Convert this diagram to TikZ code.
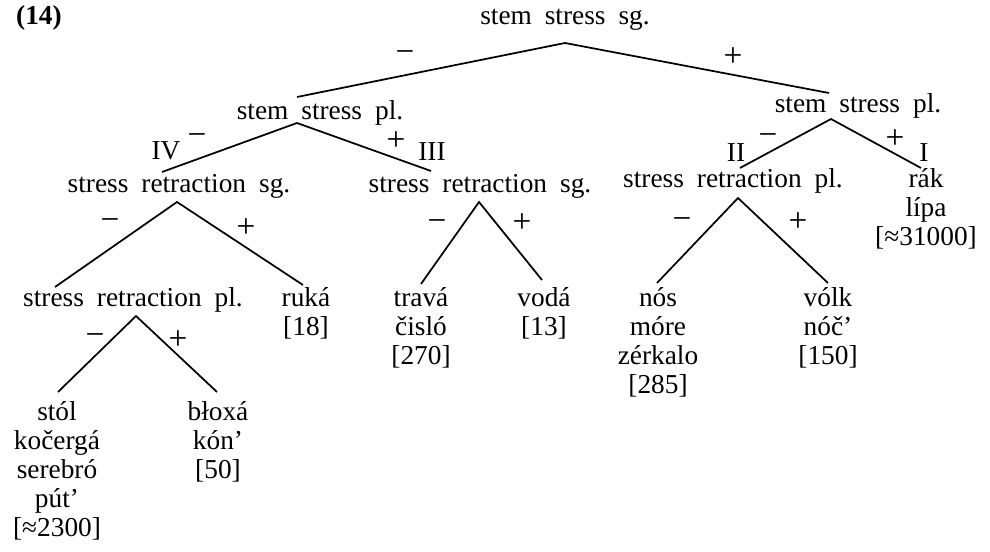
\documentclass[tikz,border=0pt]{standalone}
\usepackage{fontspec}
\setmainfont{Liberation Serif}[WordSpace=1.9]
\newcommand{\leaflist}[1]{\begin{tabular}[t]{@{}c@{}}#1\end{tabular}}
\tikzset{every picture/.style={line width=0.75pt}}

\begin{document}
\begin{tikzpicture}[x=0.75pt,y=0.75pt,yscale=-1,xscale=1,
  txt/.style={font=\fontsize{20.5}{21.75}\selectfont,inner sep=0pt,anchor=base},
  cls/.style={font=\fontsize{20.5}{21.75}\selectfont,inner sep=0pt},
  sgn/.style={font=\fontsize{25}{26}\selectfont,inner sep=0pt},
  branch/.style={line width=1.3pt}]
\useasboundingbox (0,0) rectangle (990,552);

% Text Node
\node [cls,font=\fontsize{20.5}{21.75}\selectfont\bfseries] (exno) at (39,18) {(14)};

% Text Node
\node [txt] (sgStem) at (565,25) {stem stress sg.};
\node [txt] (plStemL) at (320,120) {stem stress pl.};
\node [txt] (plStemR) at (858,113) {stem stress pl.};
\node [txt] (retrSgL) at (179,193) {stress retraction sg.};
\node [txt] (retrSgM) at (480,193) {stress retraction sg.};
\node [txt] (retrPlR) at (733,188) {stress retraction pl.};
\node [txt] (retrPlL) at (133,307) {stress retraction pl.};

% Leaves
\node [txt] (ruka) at (306,307) {\leaflist{ruká\\{[}18{]}}};
\node [txt] (trava) at (421,307) {\leaflist{travá\\čisló\\{[}270{]}}};
\node [txt] (voda) at (544,307) {\leaflist{vodá\\{[}13{]}}};
\node [txt] (nos) at (658,307) {\leaflist{nós\\móre\\zérkalo\\{[}285{]}}};
\node [txt] (volk) at (828,307) {\leaflist{vólk\\nóč’\\{[}150{]}}};
\node [txt] (rak) at (926,188) {\leaflist{rák\\lípa\\{[}≈31000{]}}};
\node [txt] (stol) at (57,421) {\leaflist{stól\\kočergá\\serebró\\pút’\\{[}≈2300{]}}};
\node [txt] (bloxa) at (218,421) {\leaflist{błoxá\\kón’\\{[}50{]}}};

% Branch points
\coordinate (sgStem-a) at (565,43);
\coordinate (plStemL-a) at (297,123);
\coordinate (plStemR-a) at (831,119);
\coordinate (retrSgL-a) at (177,202);
\coordinate (retrSgM-a) at (479,202);
\coordinate (retrPlR-a) at (738,198);
\coordinate (retrPlL-a) at (136,316);
% Branch ends
\coordinate (plStemL-e) at (297,97);
\coordinate (plStemR-e) at (829,93);
\coordinate (retrSgL-e) at (162,172);
\coordinate (retrSgM-e) at (431,171);
\coordinate (retrPlR-e) at (740,168);
\coordinate (rak-e) at (921,168);
\coordinate (retrPlL-e) at (55,287);
\coordinate (ruka-e) at (303,285);
\coordinate (trava-e) at (421,284);
\coordinate (voda-e) at (542,280);
\coordinate (nos-e) at (657,283);
\coordinate (volk-e) at (828,283);
\coordinate (stol-e) at (58,392);
\coordinate (bloxa-e) at (217,392);

%Straight Lines
\draw [branch] (plStemL-e) -- (sgStem-a) -- (plStemR-e);
\draw [branch] (retrSgL-e) -- (plStemL-a) -- (retrSgM-e);
\draw [branch] (retrPlR-e) -- (plStemR-a) -- (rak-e);
\draw [branch] (retrPlL-e) -- (retrSgL-a) -- (ruka-e);
\draw [branch] (trava-e) -- (retrSgM-a) -- (voda-e);
\draw [branch] (nos-e) -- (retrPlR-a) -- (volk-e);
\draw [branch] (stol-e) -- (retrPlL-a) -- (bloxa-e);

% Signs and classes
\node [sgn] (m1) at (405,57) {−};
\node [sgn] (p1) at (733,57) {+};
\node [cls] (cIV) at (166,151) {IV};
\node [sgn] (m2) at (197,140) {−};
\node [sgn] (p2) at (396,141) {+};
\node [cls] (cIII) at (432,152) {III};
\node [cls] (cII) at (736,153) {II};
\node [sgn] (m3) at (768,140) {−};
\node [sgn] (p3) at (895,139) {+};
\node [cls] (cI) at (924,153) {I};
\node [sgn] (m4) at (110,225) {−};
\node [sgn] (p4) at (246,228) {+};
\node [sgn] (m5) at (437,226) {−};
\node [sgn] (p5) at (522,223) {+};
\node [sgn] (m6) at (682,224) {−};
\node [sgn] (p6) at (798,222) {+};
\node [sgn] (m7) at (95,340) {−};
\node [sgn] (p7) at (178,340) {+};

\end{tikzpicture}
\end{document}
